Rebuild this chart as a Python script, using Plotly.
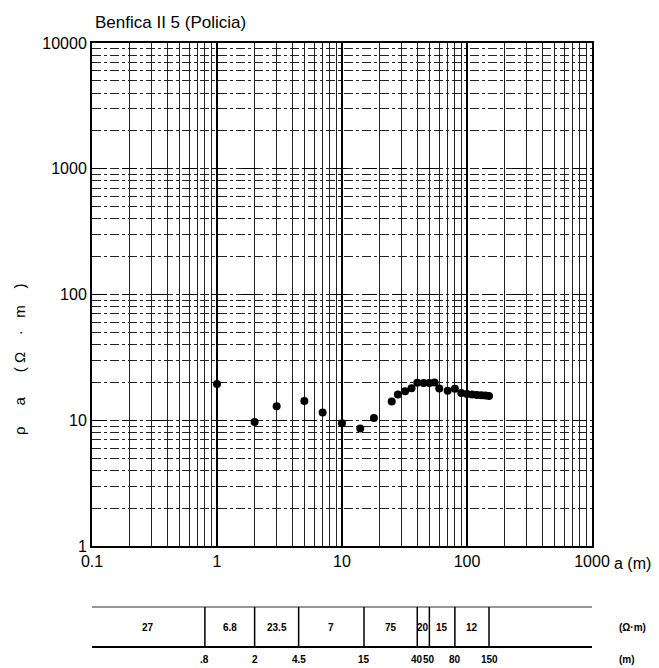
import math
import plotly.graph_objects as go

title_text = "Benfica II 5 (Policia)"

# electrode spacing a (m) and apparent resistivity (ohm-m)
spacing_a = [1, 2, 3, 5, 7, 10, 14, 18, 25, 28, 32, 36, 40, 45, 50, 55, 60, 70, 80, 90,
             100, 110, 120, 130, 140, 150]
rho_a = [19.4, 9.7, 12.9, 14.2, 11.5, 9.45, 8.6, 10.4, 14.1, 16.0, 17.0, 18.0, 19.9, 19.8,
         19.8, 20.0, 17.9, 17.2, 17.8, 16.5, 16.2, 16.0, 15.9, 15.8, 15.7, 15.6]

x_tick_vals = [0.1, 1, 10, 100, 1000]
x_tick_text = ["0.1", "1", "10", "100", "1000"]
y_tick_vals = [1, 10, 100, 1000, 10000]
y_tick_text = ["1", "10", "100", "1000", "10000"]

# layered model
layer_rho = ["27", "6.8", "23.5", "7", "75", "20", "15", "12"]
layer_depth = [0.8, 2, 4.5, 15, 40, 50, 80, 150]
depth_text = [".8", "2", "4.5", "15", "40", "50", "80", "150"]
x_min, x_max = 0.1, 1000

FONT = "Liberation Sans, Arial, sans-serif"
NB = "\u00a0"

W, H = 651, 660
fig = go.Figure()
fig.add_trace(go.Scatter(
    x=spacing_a, y=rho_a, mode="markers",
    marker=dict(color="black", size=8),
    showlegend=False, hoverinfo="x+y"))

fig.update_xaxes(
    type="log", range=[math.log10(x_min), math.log10(x_max)],
    tickvals=x_tick_vals, ticktext=x_tick_text, ticks="",
    showgrid=True, gridcolor="black", gridwidth=1.8,
    minor=dict(showgrid=True, dtick="D1", gridcolor="#222222", gridwidth=1.3),
    showline=True, linecolor="black", linewidth=2, mirror=True,
    tickfont=dict(family=FONT, size=16, color="black"),
    zeroline=False)
fig.update_yaxes(
    type="log", range=[0, 4],
    tickvals=y_tick_vals, ticktext=y_tick_text, ticks="",
    showgrid=True, gridcolor="black", gridwidth=1.4, griddash="longdash",
    minor=dict(showgrid=True, dtick="D1", gridcolor="#222222", gridwidth=1, griddash="dashdot"),
    showline=True, linecolor="black", linewidth=2, mirror=True,
    tickfont=dict(family=FONT, size=16, color="black"),
    zeroline=False)

# table below the chart
t_top, t_bot = -0.1213, -0.2008
y_rho_txt, y_dep_txt = -0.163, -0.2247
shapes = [
    dict(type="line", xref="x", yref="paper", x0=x_min, x1=x_max, y0=t_top, y1=t_top,
         line=dict(color="#333", width=1.2)),
    dict(type="line", xref="x", yref="paper", x0=x_min, x1=x_max, y0=t_bot, y1=t_bot,
         line=dict(color="black", width=2)),
]
for d in layer_depth:
    shapes.append(dict(type="line", xref="x", yref="paper", x0=d, x1=d, y0=t_top, y1=t_bot,
                       line=dict(color="black", width=1.5)))

annotations = []
bounds = [x_min] + layer_depth
for i, v in enumerate(layer_rho):
    lo, hi = bounds[i], bounds[i + 1]
    xc = (math.log10(lo) + math.log10(hi)) / 2
    annotations.append(dict(x=xc, y=y_rho_txt, xref="x", yref="paper", text="<b>" + v + "</b>",
                            showarrow=False, font=dict(family=FONT, size=10, color="black"),
                            xanchor="center", yanchor="middle"))
for d, t in zip(layer_depth, depth_text):
    annotations.append(dict(x=math.log10(d), y=y_dep_txt, xref="x", yref="paper", text="<b>" + t + "</b>",
                            showarrow=False, font=dict(family=FONT, size=10, color="black"),
                            xanchor="center", yanchor="middle"))

annotations.append(dict(x=1.05, y=y_rho_txt, xref="paper", yref="paper", text="<b>(Ω·m)</b>",
                        showarrow=False, font=dict(family=FONT, size=10, color="black"),
                        xanchor="left", yanchor="middle"))
annotations.append(dict(x=1.05, y=y_dep_txt, xref="paper", yref="paper", text="<b>(m)</b>",
                        showarrow=False, font=dict(family=FONT, size=10, color="black"),
                        xanchor="left", yanchor="middle"))
annotations.append(dict(x=1.04, y=-0.034, xref="paper", yref="paper", text="a (m)",
                        showarrow=False, font=dict(family=FONT, size=16, color="black"),
                        xanchor="left", yanchor="middle"))
ytitle = ("ρ" + NB * 5 + "a" + NB * 6 + "(" + NB + "Ω" + NB * 4 + "·" + NB * 3 + "m" + NB * 4 + ")")
annotations.append(dict(x=-0.144, y=0.37, xref="paper", yref="paper", text=ytitle,
                        textangle=-90, showarrow=False,
                        font=dict(family=FONT, size=15, color="black"),
                        xanchor="center", yanchor="middle"))

fig.update_layout(
    width=W, height=H,
    margin=dict(l=84, r=67, t=35, b=122),
    paper_bgcolor="white", plot_bgcolor="white",
    title=dict(text=title_text, x=87 / W, xanchor="left", y=1 - 14 / H, yanchor="middle",
               font=dict(family=FONT, size=17, color="black")),
    shapes=shapes, annotations=annotations, showlegend=False)

fig.write_html("out.html")
